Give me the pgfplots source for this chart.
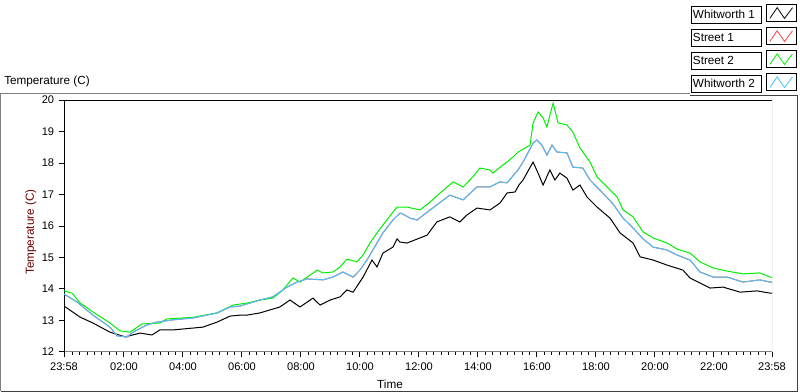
\documentclass[border=0pt]{standalone}
\usepackage{pgfplots}
\pgfplotsset{compat=1.18}
\usepackage{pgfplotstable}
\usepackage{fontspec}
\setmainfont{Liberation Sans}

\definecolor{wblue}{RGB}{70,195,255}
\definecolor{sgreen}{RGB}{0,240,0}
\definecolor{sred}{RGB}{255,70,70}
\definecolor{ylab}{RGB}{110,0,0}
\definecolor{frameg}{RGB}{128,128,128}

\pgfplotstableread{
h T
0 13.46
0.54 13.11
0.98 12.92
1.56 12.63
2.07 12.48
2.58 12.60
2.98 12.54
3.25 12.70
3.69 12.70
4.37 12.76
4.71 12.79
5.19 12.95
5.63 13.14
5.97 13.17
6.20 13.17
6.64 13.24
7.32 13.43
7.66 13.65
8.00 13.43
8.44 13.71
8.68 13.49
9.02 13.65
9.36 13.75
9.59 13.97
9.80 13.90
10.14 14.38
10.44 14.92
10.61 14.70
10.81 15.14
11.15 15.33
11.29 15.59
11.39 15.49
11.63 15.46
12.31 15.71
12.64 16.13
13.08 16.29
13.42 16.13
13.66 16.35
14.00 16.57
14.44 16.51
14.78 16.73
15.02 17.05
15.29 17.08
15.42 17.30
15.56 17.46
15.90 18.03
16.07 17.68
16.24 17.30
16.47 17.78
16.64 17.46
16.81 17.68
17.05 17.52
17.25 17.14
17.49 17.30
17.73 16.92
18.07 16.60
18.51 16.25
18.85 15.78
19.29 15.46
19.53 15.02
19.97 14.92
20.44 14.76
20.98 14.60
21.22 14.35
21.56 14.19
21.90 14.03
22.34 14.06
22.92 13.90
23.49 13.94
23.93 13.87
24.00 13.87
}\whitA

\pgfplotstableread{
h T
0 13.94
0.27 13.87
0.54 13.56
0.98 13.27
1.56 12.92
1.90 12.67
2.24 12.63
2.64 12.89
3.25 12.92
3.49 13.05
4.37 13.10
5.19 13.24
5.73 13.49
6.24 13.56
6.64 13.65
7.08 13.71
7.42 13.97
7.76 14.35
8.00 14.22
8.34 14.44
8.58 14.60
8.78 14.51
9.12 14.54
9.36 14.70
9.59 14.95
9.93 14.86
10.14 15.08
10.37 15.46
10.61 15.78
10.81 16.03
11.15 16.44
11.29 16.60
11.63 16.60
12.07 16.51
12.41 16.76
12.75 17.05
13.19 17.40
13.53 17.24
13.86 17.56
14.10 17.84
14.44 17.78
14.54 17.68
14.88 17.94
15.02 18.03
15.22 18.19
15.39 18.35
15.80 18.57
15.90 19.27
16.07 19.62
16.24 19.43
16.37 19.14
16.47 19.52
16.58 19.90
16.75 19.27
17.05 19.21
17.25 18.98
17.49 18.48
17.83 18.03
18.07 17.56
18.41 17.24
18.75 16.92
18.95 16.51
19.29 16.29
19.63 15.81
19.97 15.62
20.44 15.46
20.78 15.27
21.22 15.14
21.56 14.86
22.00 14.67
22.47 14.57
23.02 14.48
23.59 14.51
23.93 14.38
24.00 14.38
}\streetB

\pgfplotstableread{
h T
0 13.84
0.44 13.59
0.98 13.17
1.56 12.79
1.80 12.51
2.14 12.48
2.34 12.63
2.81 12.86
3.15 12.95
3.69 13.02
4.37 13.08
5.19 13.24
5.63 13.43
5.97 13.46
6.64 13.65
7.08 13.75
7.56 14.06
7.90 14.22
8.24 14.32
8.78 14.29
9.12 14.38
9.46 14.54
9.80 14.38
10.03 14.60
10.27 14.92
10.61 15.46
10.81 15.78
11.15 16.19
11.39 16.41
11.49 16.38
11.73 16.25
11.97 16.19
12.41 16.51
13.08 16.98
13.53 16.83
14.00 17.24
14.44 17.24
14.78 17.40
15.02 17.37
15.39 17.78
15.56 18.03
15.90 18.63
16.03 18.73
16.20 18.57
16.37 18.25
16.54 18.57
16.71 18.35
17.05 18.32
17.25 17.87
17.59 17.84
17.83 17.46
18.17 17.14
18.61 16.70
18.95 16.25
19.29 15.94
19.63 15.59
19.97 15.33
20.44 15.24
20.78 15.08
21.22 14.92
21.56 14.54
22.00 14.38
22.47 14.38
23.02 14.22
23.59 14.29
23.93 14.22
24.00 14.22
}\whitB

\newcommand\LegBox[1]{{\fontsize{8.8pt}{10pt}\selectfont\setlength\fboxsep{0pt}\setlength\fboxrule{0.75pt}\framebox[53pt][l]{\rule[-3.2pt]{0pt}{12pt}\hspace{1.2pt}#1}}}

\begin{document}
\fontsize{8.8pt}{10pt}\selectfont
\begin{tikzpicture}
\useasboundingbox (0pt,0pt) rectangle (600pt,294pt);
% outer panel frame (pixel coordinates)
\begin{scope}[x=0.75pt,y=-0.75pt,shift={(0pt,294pt)}]
  \draw[frameg,line width=0.75pt] (690,93.5) -- (0.5,93.5) -- (0.5,391.5);
  \draw[black!75,line width=0.75pt] (0.5,391.5) -- (797.5,391.5) -- (797.5,95.5) -- (690,95.5);
  \node[anchor=west,inner sep=0pt] at (4,81) {Temperature (C)};
\end{scope}
\begin{axis}[
  at={(48pt,30pt)}, anchor=south west,
  scale only axis, width=531pt, height=189pt,
  xmin=0, xmax=24, ymin=12, ymax=20,
  axis x line*=bottom, axis y line*=left,
  x axis line style={frameg,line width=0.75pt,-},
  y axis line style={black,line width=0.75pt,-},
  tick align=outside,
  major tick length=3.75pt, minor tick length=2.2pt,
  tick style={black,line width=0.75pt},
  ytick={12,13,14,15,16,17,18,19,20},
  xtick={0,2.0333,4.0333,6.0333,8.0333,10.0333,12.0333,14.0333,16.0333,18.0333,20.0333,22.0333,24},
  xticklabels={23:58,02:00,04:00,06:00,08:00,10:00,12:00,14:00,16:00,18:00,20:00,22:00,23:58},
  minor xtick={0.2833,0.5333,...,23.9},
  /pgf/number format/assume math mode=true,
  tick label style={font=\fontsize{8.3pt}{9.5pt}\selectfont, black},
  yticklabel style={xshift=-0.5pt},
  xticklabel style={yshift=-1pt},
  xlabel={Time},
  xlabel style={at={(axis description cs:0.4605,-0.127)}, anchor=center, font=\fontsize{8.8pt}{10pt}\selectfont},
  ylabel={Temperature (C)},
  ylabel style={at={(axis description cs:-0.047,0.476)}, anchor=center, rotate=0, color=ylab, font=\fontsize{8.8pt}{10pt}\selectfont},
  clip=true,
  legend plot pos=right,
  legend cell align=left,
  legend style={at={(axis description cs:1.0353,1.381)}, anchor=north east,
    draw=none, fill=none, inner sep=0pt, outer sep=0pt,
    font=\fontsize{8.8pt}{10pt}\selectfont,
    nodes={inner sep=0pt},
    column sep=3pt, row sep=3.75pt},
  legend image code/.code={
    \draw[black,line width=0.75pt,fill=white] (0pt,-6.4pt) rectangle (22.5pt,6.4pt);
    \draw[#1,line width=0.6pt] (2.5pt,-4pt) -- (8pt,4pt) -- (13.5pt,-4pt) -- (19.5pt,4pt);
  },
]
\addplot[black, line width=0.75pt] table[x=h,y=T] {\whitA};
\addlegendentry{\LegBox{Whitworth 1}}
\addplot[sred, line width=0.75pt] table[x=h,y=T] {\whitB};
\addlegendentry{\LegBox{Street 1}}
\addplot[sgreen, line width=0.75pt] table[x=h,y=T] {\streetB};
\addlegendentry{\LegBox{Street 2}}
\addplot[wblue, line width=0.75pt] table[x=h,y=T] {\whitB};
\addlegendentry{\LegBox{Whitworth 2}}
\draw[black,line width=0.75pt] (rel axis cs:0,1) -- (rel axis cs:1,1);
\draw[frameg,line width=0.75pt] (rel axis cs:1,1) -- (rel axis cs:1,0);
\end{axis}
\end{tikzpicture}
\end{document}
